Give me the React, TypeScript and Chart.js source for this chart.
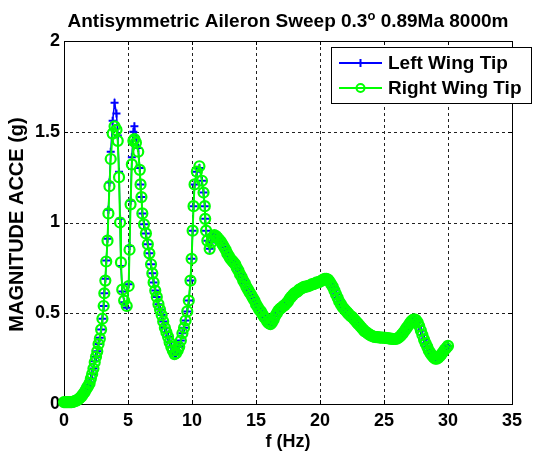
import React, { useEffect, useRef } from "react";
import { Chart, registerables } from "chart.js";

Chart.register(...registerables);

const chartTitle = "Antisymmetric Aileron Sweep 0.3";
const titleSup = "o";
const titleRest = " 0.89Ma 8000m";
const xLabel = "f (Hz)";
const yLabel = "MAGNITUDE ACCE (g)";
const seriesNames = ["Left Wing Tip", "Right Wing Tip"];

const xTicks = [0, 5, 10, 15, 20, 25, 30, 35];
const yTicks = [0, 0.5, 1, 1.5, 2];

const freqHz = [
  // 0 - 3 Hz
  0, 0.1, 0.2, 0.3, 0.4, 0.5, 0.6, 0.7, 0.8, 0.9,
  1.0, 1.1, 1.2, 1.3, 1.4, 1.5, 1.6, 1.7, 1.8, 1.9,
  2.0, 2.1, 2.2, 2.3, 2.4, 2.5, 2.6, 2.7, 2.8, 2.9,
  3.0,
  // resonant peaks
  3.1, 3.15, 3.23, 3.3, 3.4, 3.47, 3.55, 3.65, 3.8, 3.95,
  4.1, 4.2, 4.3, 4.38, 4.45, 4.55, 4.7, 4.9, 5.05, 5.12,
  5.2, 5.3, 5.42, 5.5, 5.62, 5.8, 5.92, 5.98, 6.05, 6.12,
  6.25, 6.4, 6.55, 6.67, 6.8, 6.9, 7.0, 7.13, 7.25, 7.38,
  7.5, 7.63, 7.75, 7.88, 8.0, 8.13, 8.25, 8.38, 8.5, 8.63,
  8.75, 8.88, 9.0, 9.13, 9.25, 9.38, 9.5, 9.63, 9.75, 9.88,
  9.97, 10.05, 10.12, 10.2, 10.38, 10.58, 10.78, 10.9, 11.0, 11.03,
  11.1, 11.2, 11.38,
  // 11.5 - 30 Hz
  11.5, 11.63, 11.75, 11.88,
  12.0, 12.13, 12.25, 12.38, 12.5, 12.63, 12.75, 12.88,
  13.0, 13.13, 13.25, 13.38, 13.5, 13.63, 13.75, 13.88,
  14.0, 14.13, 14.25, 14.38, 14.5, 14.63, 14.75, 14.88,
  15.0, 15.13, 15.25, 15.38, 15.5, 15.63, 15.75, 15.88,
  16.0, 16.13, 16.25, 16.38, 16.5, 16.63, 16.75, 16.88,
  17.0, 17.13, 17.25, 17.38, 17.5, 17.63, 17.75, 17.88,
  18.0, 18.13, 18.25, 18.38, 18.5, 18.63, 18.75, 18.88,
  19.0, 19.13, 19.25, 19.38, 19.5, 19.63, 19.75, 19.88,
  20.0, 20.13, 20.25, 20.38, 20.5, 20.63, 20.75, 20.88,
  21.0, 21.13, 21.25, 21.38, 21.5, 21.63, 21.75, 21.88,
  22.0, 22.13, 22.25, 22.38, 22.5, 22.63, 22.75, 22.88,
  23.0, 23.13, 23.25, 23.38, 23.5, 23.63, 23.75, 23.88,
  24.0, 24.13, 24.25, 24.38, 24.5, 24.63, 24.75, 24.88,
  25.0, 25.13, 25.25, 25.38, 25.5, 25.63, 25.75, 25.88,
  26.0, 26.13, 26.25, 26.38, 26.5, 26.63, 26.75, 26.88,
  27.0, 27.13, 27.25, 27.38, 27.5, 27.63, 27.75, 27.88,
  28.0, 28.13, 28.25, 28.38, 28.5, 28.63, 28.75, 28.88,
  29.0, 29.13, 29.25, 29.38, 29.5, 29.63, 29.75, 29.88,
  30.0,
];

const rightWingTip = [
  0.01, 0.01, 0.01, 0.01, 0.01, 0.01, 0.01, 0.012, 0.015, 0.017,
  0.02, 0.025, 0.03, 0.037, 0.045, 0.055, 0.065, 0.077, 0.09, 0.1,
  0.115, 0.14, 0.165, 0.195, 0.23, 0.26, 0.29, 0.33, 0.36, 0.41,
  0.47,
  0.54, 0.61, 0.68, 0.785, 0.9, 1.05, 1.2, 1.35, 1.49, 1.53,
  1.51, 1.45, 1.25, 1.0, 0.78, 0.63, 0.57, 0.54, 0.65, 0.85,
  1.1, 1.32, 1.45, 1.46, 1.44, 1.39, 1.29, 1.21, 1.14, 1.05,
  0.99, 0.94, 0.88, 0.83, 0.77, 0.72, 0.67, 0.625, 0.59, 0.55,
  0.52, 0.49, 0.455, 0.42, 0.395, 0.37, 0.34, 0.315, 0.295, 0.275,
  0.28, 0.295, 0.315, 0.35, 0.39, 0.42, 0.46, 0.51, 0.57, 0.68,
  0.8, 0.955, 1.09, 1.21, 1.28, 1.31, 1.23, 1.165, 1.09, 1.02,
  0.955, 0.9, 0.855,
  0.89, 0.92, 0.93, 0.925,
  0.915, 0.905, 0.895, 0.88, 0.865, 0.85, 0.83, 0.815,
  0.8, 0.79, 0.78, 0.77, 0.75, 0.735, 0.715, 0.7,
  0.68, 0.665, 0.645, 0.63, 0.615, 0.6, 0.585, 0.57,
  0.55, 0.535, 0.52, 0.51, 0.495, 0.48, 0.47, 0.455,
  0.445, 0.44, 0.45, 0.465, 0.485, 0.5, 0.515, 0.525,
  0.53, 0.54, 0.545, 0.555, 0.565, 0.58, 0.59, 0.6,
  0.61, 0.615, 0.62, 0.63, 0.635, 0.64, 0.645, 0.645,
  0.65, 0.65, 0.655, 0.66, 0.66, 0.665, 0.67, 0.67,
  0.675, 0.68, 0.685, 0.69, 0.69, 0.685, 0.675, 0.66,
  0.645, 0.625, 0.605, 0.585, 0.565, 0.55, 0.535, 0.525,
  0.515, 0.505, 0.495, 0.485, 0.48, 0.47, 0.46, 0.45,
  0.44, 0.43, 0.42, 0.41, 0.4, 0.395, 0.388, 0.382,
  0.377, 0.373, 0.37, 0.369, 0.368, 0.367, 0.366, 0.366,
  0.365, 0.364, 0.363, 0.362, 0.36, 0.359, 0.358, 0.358,
  0.36, 0.365, 0.372, 0.382, 0.392, 0.405, 0.418, 0.43,
  0.443, 0.455, 0.463, 0.467, 0.462, 0.45, 0.43, 0.405,
  0.38, 0.355, 0.335, 0.315, 0.295, 0.28, 0.267, 0.257,
  0.25, 0.25, 0.255, 0.265, 0.275, 0.288, 0.3, 0.31,
  0.32,
];

const leftWingTip = [
  0.01, 0.01, 0.01, 0.01, 0.01, 0.01, 0.01, 0.012, 0.015, 0.017,
  0.02, 0.025, 0.03, 0.037, 0.045, 0.055, 0.065, 0.077, 0.09, 0.1,
  0.12, 0.14, 0.165, 0.195, 0.235, 0.26, 0.29, 0.33, 0.365, 0.41,
  0.47,
  0.54, 0.61, 0.69, 0.79, 0.91, 1.07, 1.22, 1.39, 1.56, 1.66,
  1.6, 1.48, 1.28, 1.02, 0.76, 0.62, 0.56, 0.53, 0.66, 0.87,
  1.12, 1.36, 1.5, 1.53, 1.47, 1.41, 1.3, 1.21, 1.14, 1.05,
  0.99, 0.94, 0.88, 0.83, 0.77, 0.72, 0.67, 0.625, 0.59, 0.55,
  0.52, 0.49, 0.455, 0.42, 0.395, 0.37, 0.34, 0.315, 0.29, 0.27,
  0.275, 0.29, 0.315, 0.35, 0.39, 0.42, 0.46, 0.51, 0.57, 0.68,
  0.8, 0.955, 1.09, 1.21, 1.28, 1.3, 1.23, 1.165, 1.09, 1.02,
  0.955, 0.9, 0.855,
  0.89, 0.92, 0.93, 0.925,
  0.915, 0.905, 0.895, 0.88, 0.865, 0.85, 0.83, 0.815,
  0.8, 0.79, 0.78, 0.77, 0.75, 0.735, 0.715, 0.7,
  0.68, 0.665, 0.645, 0.63, 0.615, 0.6, 0.585, 0.57,
  0.55, 0.535, 0.52, 0.51, 0.495, 0.48, 0.47, 0.455,
  0.445, 0.44, 0.45, 0.465, 0.485, 0.5, 0.515, 0.525,
  0.53, 0.54, 0.545, 0.555, 0.565, 0.58, 0.59, 0.6,
  0.61, 0.615, 0.62, 0.63, 0.635, 0.64, 0.645, 0.645,
  0.65, 0.65, 0.655, 0.66, 0.66, 0.665, 0.67, 0.67,
  0.675, 0.68, 0.685, 0.69, 0.69, 0.685, 0.675, 0.66,
  0.645, 0.625, 0.605, 0.585, 0.565, 0.55, 0.535, 0.525,
  0.515, 0.505, 0.495, 0.485, 0.48, 0.47, 0.46, 0.45,
  0.44, 0.43, 0.42, 0.41, 0.4, 0.395, 0.388, 0.382,
  0.377, 0.373, 0.37, 0.369, 0.368, 0.367, 0.366, 0.366,
  0.365, 0.364, 0.363, 0.362, 0.36, 0.359, 0.358, 0.358,
  0.36, 0.365, 0.372, 0.382, 0.392, 0.405, 0.418, 0.43,
  0.443, 0.455, 0.463, 0.467, 0.462, 0.45, 0.43, 0.405,
  0.38, 0.355, 0.335, 0.315, 0.295, 0.28, 0.267, 0.257,
  0.245, 0.248, 0.255, 0.265, 0.275, 0.288, 0.3, 0.31,
  0.32,
];

const FONT = '"Liberation Sans", Arial, Helvetica, sans-serif';
const BLUE = "#0000ff";
const GREEN = "#00ff00";

const decorPlugin = {
  id: "matlabDecor",
  beforeDatasetsDraw(chart: any) {
    const { ctx, chartArea: a, scales } = chart;
    const xs = scales.x;
    const ys = scales.y;
    ctx.save();
    ctx.strokeStyle = "#222";
    ctx.lineWidth = 1;
    ctx.setLineDash([3, 3]);
    xTicks.forEach((v) => {
      if (v <= 0 || v >= 35) return;
      const px = Math.round(xs.getPixelForValue(v)) + 0.5;
      ctx.beginPath();
      ctx.moveTo(px, a.top);
      ctx.lineTo(px, a.bottom);
      ctx.stroke();
    });
    yTicks.forEach((v) => {
      if (v <= 0 || v >= 2) return;
      const py = Math.round(ys.getPixelForValue(v)) + 0.5;
      ctx.beginPath();
      ctx.moveTo(a.left, py);
      ctx.lineTo(a.right, py);
      ctx.stroke();
    });
    ctx.setLineDash([]);
    ctx.strokeStyle = "#000";
    xTicks.forEach((v) => {
      const px = Math.round(xs.getPixelForValue(v)) + 0.5;
      ctx.beginPath();
      ctx.moveTo(px, a.top);
      ctx.lineTo(px, a.top + 4);
      ctx.moveTo(px, a.bottom);
      ctx.lineTo(px, a.bottom - 4);
      ctx.stroke();
    });
    yTicks.forEach((v) => {
      const py = Math.round(ys.getPixelForValue(v)) + 0.5;
      ctx.beginPath();
      ctx.moveTo(a.left, py);
      ctx.lineTo(a.left + 4, py);
      ctx.moveTo(a.right, py);
      ctx.lineTo(a.right - 4, py);
      ctx.stroke();
    });
    ctx.strokeRect(
      Math.round(a.left) + 0.5,
      Math.round(a.top) + 0.5,
      Math.round(a.right - a.left),
      Math.round(a.bottom - a.top)
    );
    ctx.restore();
  },
  afterDatasetsDraw(chart: any) {
    const { ctx, chartArea: a } = chart;
    ctx.save();
    ctx.fillStyle = "#000";
    const mainFont = `bold 19px ${FONT}`;
    const supFont = `bold 13px ${FONT}`;
    ctx.font = mainFont;
    const w1 = ctx.measureText(chartTitle).width;
    const w3 = ctx.measureText(titleRest).width;
    ctx.font = supFont;
    const w2 = ctx.measureText(titleSup).width;
    const total = w1 + w2 + w3;
    const cx = (a.left + a.right) / 2;
    let tx = cx - total / 2;
    const ty = 27;
    ctx.textBaseline = "alphabetic";
    ctx.textAlign = "left";
    ctx.font = mainFont;
    ctx.fillText(chartTitle, tx, ty);
    tx += w1;
    ctx.font = supFont;
    ctx.fillText(titleSup, tx, ty - 7);
    tx += w2;
    ctx.font = mainFont;
    ctx.fillText(titleRest, tx, ty);

    ctx.textAlign = "center";
    ctx.textBaseline = "middle";
    ctx.font = `bold 18px ${FONT}`;
    ctx.fillText(xLabel, cx, 442);

    ctx.save();
    ctx.translate(17, (a.top + a.bottom) / 2 + 2);
    ctx.rotate(-Math.PI / 2);
    ctx.font = `bold 20px ${FONT}`;
    ctx.fillText(yLabel, 0, 0);
    ctx.restore();

    const lx = 331, ly = 47, lw = 200, lh = 56;
    ctx.fillStyle = "#fff";
    ctx.fillRect(lx, ly, lw, lh);
    ctx.strokeStyle = "#000";
    ctx.lineWidth = 1;
    ctx.strokeRect(lx + 0.5, ly + 0.5, lw, lh);
    const rows = [
      { name: seriesNames[0], color: BLUE, y: 63, marker: "cross" },
      { name: seriesNames[1], color: GREEN, y: 88, marker: "circle" },
    ];
    rows.forEach((r) => {
      ctx.strokeStyle = r.color;
      ctx.lineWidth = 2;
      ctx.beginPath();
      ctx.moveTo(339, r.y);
      ctx.lineTo(382, r.y);
      ctx.stroke();
      if (r.marker === "cross") {
        ctx.beginPath();
        ctx.moveTo(360.5, r.y - 4);
        ctx.lineTo(360.5, r.y + 4);
        ctx.moveTo(356.5, r.y);
        ctx.lineTo(364.5, r.y);
        ctx.stroke();
      } else {
        ctx.lineWidth = 2;
        ctx.beginPath();
        ctx.arc(360.5, r.y, 4, 0, Math.PI * 2);
        ctx.stroke();
      }
      ctx.fillStyle = "#000";
      ctx.textAlign = "left";
      ctx.textBaseline = "middle";
      ctx.font = `bold 19px ${FONT}`;
      ctx.fillText(r.name, 388, r.y + 1);
    });
    ctx.restore();
  },
};

export default function App() {
  const ref = useRef<HTMLCanvasElement | null>(null);
  useEffect(() => {
    document.body.style.margin = "0";
    const canvas = ref.current;
    if (!canvas) return;
    const left = freqHz.map((f, i) => ({ x: f, y: leftWingTip[i] }));
    const right = freqHz.map((f, i) => ({ x: f, y: rightWingTip[i] }));
    const tickFont = { family: FONT, size: 18, weight: "bold" as const };
    const chart = new Chart(canvas, {
      type: "line",
      data: {
        datasets: [
          {
            label: seriesNames[0],
            data: left,
            borderColor: BLUE,
            backgroundColor: BLUE,
            borderWidth: 1.5,
            pointStyle: "cross",
            pointRadius: 4,
            pointBorderWidth: 2,
            pointBorderColor: BLUE,
            pointBackgroundColor: BLUE,
            tension: 0,
            clip: false,
            order: 1,
          },
          {
            label: seriesNames[1],
            data: right,
            borderColor: GREEN,
            backgroundColor: "rgba(0,0,0,0)",
            borderWidth: 2,
            pointStyle: "circle",
            pointRadius: 5,
            pointBorderWidth: 2.2,
            pointBorderColor: GREEN,
            pointBackgroundColor: "rgba(0,0,0,0)",
            tension: 0,
            clip: false,
            order: 0,
          },
        ],
      },
      options: {
        responsive: false,
        animation: false,
        devicePixelRatio: 1,
        layout: { padding: { left: 0, top: 41, right: 35, bottom: 0 } },
        plugins: {
          legend: { display: false },
          tooltip: { enabled: false },
          title: { display: false },
        },
        scales: {
          x: {
            type: "linear",
            min: 0,
            max: 35,
            afterBuildTicks: (s: any) => {
              s.ticks = xTicks.map((v) => ({ value: v }));
            },
            afterFit: (s: any) => {
              s.height = 50;
            },
            grid: { display: false, drawTicks: false },
            border: { display: false },
            ticks: {
              font: tickFont,
              color: "#000",
              padding: 6,
              maxRotation: 0,
              callback: (v: any) => String(v),
            },
          },
          y: {
            type: "linear",
            min: 0,
            max: 2,
            afterBuildTicks: (s: any) => {
              s.ticks = yTicks.map((v) => ({ value: v }));
            },
            afterFit: (s: any) => {
              s.width = 64;
            },
            grid: { display: false, drawTicks: false },
            border: { display: false },
            ticks: {
              font: tickFont,
              color: "#000",
              padding: 4,
              callback: (v: any) => String(v),
            },
          },
        },
      },
      plugins: [decorPlugin],
    });
    return () => chart.destroy();
  }, []);
  return <canvas ref={ref} width={547} height={454} style={{ display: "block" }} />;
}
